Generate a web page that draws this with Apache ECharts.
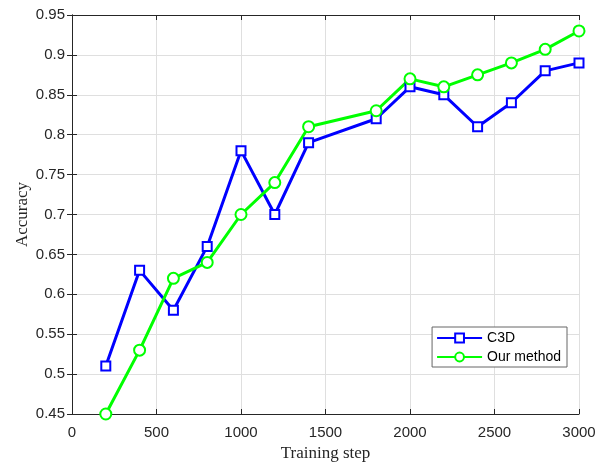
<!DOCTYPE html>
<html><head><meta charset="utf-8">
<script src="https://cdn.jsdelivr.net/npm/echarts@6/dist/echarts.min.js"></script>
<style>html,body{margin:0;padding:0;background:#fff}#c{width:606px;height:463px}</style>
</head><body><div id="c"></div>
<script>
const steps = [200, 400, 600, 800, 1000, 1200, 1400, 1800, 2000, 2200, 2400, 2600, 2800, 3000];
const c3d = [0.51, 0.63, 0.58, 0.66, 0.78, 0.70, 0.79, 0.82, 0.86, 0.85, 0.81, 0.84, 0.88, 0.89];
const ours = [0.45, 0.53, 0.62, 0.64, 0.70, 0.74, 0.81, 0.83, 0.87, 0.86, 0.875, 0.89, 0.907, 0.93];
const seriesNames = ['C3D', 'Our method'];

const chart = echarts.init(document.getElementById('c'));
const axisLine = {show: true, lineStyle: {color: '#262626', width: 1}};
const gridLine = {show: true, lineStyle: {color: '#dfdfdf', width: 1}};
const tick = {show: true, inside: true, length: 5, lineStyle: {color: '#262626'}};
const lbl = {color: '#262626', fontFamily: 'Liberation Sans, Arial', fontSize: 15};
chart.setOption({
  animation: false,
  grid: {left: 72, right: 27, top: 15, bottom: 49, containLabel: false, outerBoundsMode: 'none'},
  legend: {
    right: 39, top: 327,
    orient: 'vertical',
    backgroundColor: '#fff',
    borderColor: '#666', borderWidth: 1, borderRadius: 0,
    padding: [4, 6, 3, 4],
    itemWidth: 45, itemHeight: 11, itemGap: 5,
    textStyle: {fontFamily: 'Liberation Sans, Arial', fontSize: 14, color: '#000'},
    data: seriesNames
  },
  xAxis: [{
    type: 'value', min: 0, max: 3000, interval: 500,
    name: 'Training step', nameLocation: 'middle', nameGap: 31, nameMoveOverlap: false,
    nameTextStyle: {fontFamily: 'Liberation Serif, Times New Roman', fontSize: 17, color: '#262626'},
    axisLine: axisLine, axisTick: tick, splitLine: gridLine,
    axisLabel: Object.assign({margin: 11, formatter: v => String(v)}, lbl)
  }, {
    type: 'value', position: 'top', min: 0, max: 3000, interval: 500,
    axisLine: axisLine, axisTick: tick, splitLine: {show: false}, axisLabel: {show: false}
  }],
  yAxis: [{
    type: 'value', min: 0.45, max: 0.95, interval: 0.05,
    name: 'Accuracy', nameLocation: 'middle', nameGap: 41, nameMoveOverlap: false,
    nameTextStyle: {fontFamily: 'Liberation Serif, Times New Roman', fontSize: 17, color: '#262626'},
    axisLine: axisLine, axisTick: tick, splitLine: gridLine,
    axisLabel: Object.assign({margin: 7, formatter: v => String(+v.toFixed(2))}, lbl)
  }, {
    type: 'value', position: 'right', min: 0.45, max: 0.95, interval: 0.05,
    axisLine: axisLine, axisTick: tick, splitLine: {show: false}, axisLabel: {show: false}
  }],
  series: [{
    name: seriesNames[0], type: 'line',
    data: steps.map((s, i) => [s, c3d[i]]),
    symbol: 'emptyRect', symbolSize: 9,
    lineStyle: {color: '#0000ff', width: 3},
    itemStyle: {color: '#0000ff', borderColor: '#0000ff', borderWidth: 4}
  }, {
    name: seriesNames[1], type: 'line',
    data: steps.map((s, i) => [s, ours[i]]),
    symbol: 'emptyCircle', symbolSize: 11,
    lineStyle: {color: '#00ff00', width: 3},
    itemStyle: {color: '#00ff00', borderColor: '#00ff00', borderWidth: 2.5}
  }]
});
</script></body></html>
